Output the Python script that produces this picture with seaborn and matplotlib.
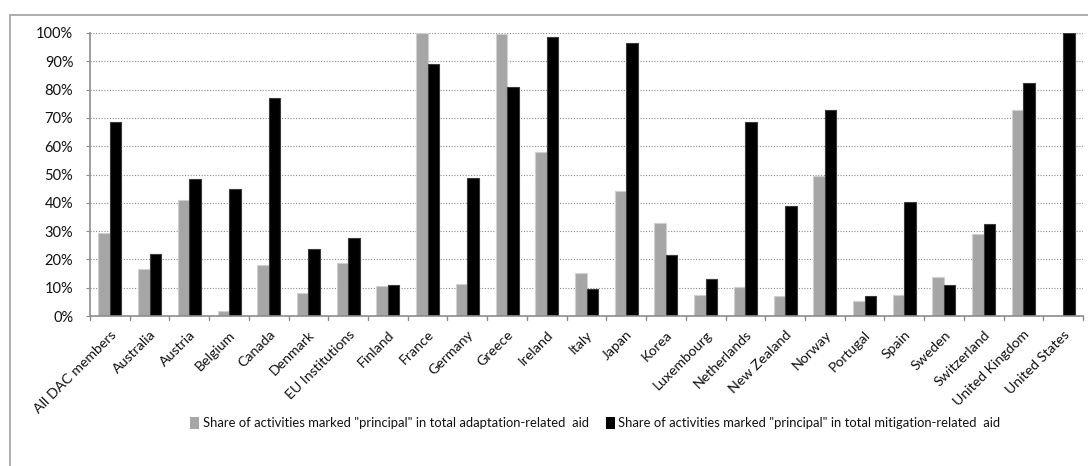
import pandas as pd
import matplotlib
matplotlib.use("Agg")
import matplotlib.pyplot as plt
import matplotlib.patches as mpatches
from matplotlib.ticker import PercentFormatter, FixedLocator
import seaborn as sns

# Data (percent)
countries = ['All DAC members', 'Australia', 'Austria', 'Belgium', 'Canada', 'Denmark',
             'EU Institutions', 'Finland', 'France', 'Germany', 'Greece', 'Ireland', 'Italy',
             'Japan', 'Korea', 'Luxembourg', 'Netherlands', 'New Zealand', 'Norway',
             'Portugal', 'Spain', 'Sweden', 'Switzerland', 'United Kingdom', 'United States']
adaptation = [29.2, 16.7, 41.0, 1.8, 18.0, 8.0, 18.8, 10.6, 100.0, 11.4, 99.5, 58.0, 15.2,
              44.0, 32.8, 7.4, 10.1, 7.1, 49.3, 5.3, 7.4, 13.7, 28.9, 72.9, 0.0]
mitigation = [68.5, 21.8, 48.5, 44.9, 77.2, 23.7, 27.6, 11.0, 89.0, 48.8, 81.0, 98.5, 9.7,
              96.5, 21.5, 13.1, 68.5, 38.8, 72.9, 7.1, 40.2, 11.0, 32.4, 82.4, 100.0]
series_names = ['Share of activities marked "principal" in total adaptation-related  aid',
                'Share of activities marked "principal" in total mitigation-related  aid']
colors = ['#a6a6a6', '#000000']

df = pd.DataFrame({'country': countries * 2,
                   'value': adaptation + mitigation,
                   'series': [series_names[0]] * len(countries) + [series_names[1]] * len(countries)})

sns.set_style('white')
plt.rcParams['font.family'] = ['Lato', 'DejaVu Sans']
plt.rcParams['text.color'] = '#111111'

fig = plt.figure(figsize=(10.88, 4.66), dpi=100)
ax = fig.add_axes([90 / 1088, 1 - 316 / 466, (1083 - 90) / 1088, (316 - 33) / 466])

sns.barplot(data=df, x='country', y='value', hue='series', palette=colors,
            width=0.58, ax=ax, legend=False, saturation=1)

edge_cols = ['#d0d0d0', '#3a3a3a']
for cont, ec in zip(ax.containers, edge_cols):
    for bar in cont:
        bar.set_edgecolor(ec)
        bar.set_linewidth(0.8)

ax.set_ylim(0, 100)
ax.set_xlim(-0.5, len(countries) - 0.5)
ax.yaxis.set_major_locator(FixedLocator(range(0, 101, 10)))
ax.yaxis.set_major_formatter(PercentFormatter(decimals=0))
ax.grid(axis='y', color='#8c8c8c', linestyle=(0, (1, 1.5)), linewidth=0.8)
ax.set_axisbelow(True)

for s in ['top', 'right']:
    ax.spines[s].set_visible(False)
for s in ['left', 'bottom']:
    ax.spines[s].set_color('#8c8c8c')
    ax.spines[s].set_linewidth(1.2)

# category labels, ticks between categories
ax.set_xticks(range(len(countries)))
ax.set_xticklabels(countries, rotation=45, ha='right', rotation_mode='anchor', fontsize=10.2)
ax.tick_params(axis='x', length=0, pad=9, labelcolor='#111111')
for x in [i - 0.5 for i in range(len(countries) + 1)]:
    ax.plot([x, x], [0, -1.5], color='#8c8c8c', lw=1, clip_on=False)
ax.tick_params(axis='y', left=True, length=3, color='#8c8c8c', labelsize=10.5, pad=9,
               labelcolor='#111111')
ax.set_xlabel('')
ax.set_ylabel('')

# outer chart frame
fig.patches.append(mpatches.Rectangle((10 / 1088, -0.05), 1.1, 1 - 15 / 466 + 0.05,
                                      transform=fig.transFigure, fill=False,
                                      edgecolor='#a0a0a0', linewidth=1.2))

handles = [mpatches.Patch(facecolor=c, edgecolor='none') for c in colors]
fig.legend(handles, series_names, loc='center', bbox_to_anchor=(0.547, 1 - 423 / 466),
           ncol=2, frameon=False, fontsize=9.4, handlelength=0.7, handleheight=1.0,
           handletextpad=0.25, columnspacing=1.3)

fig.savefig('out.png', dpi=100)
